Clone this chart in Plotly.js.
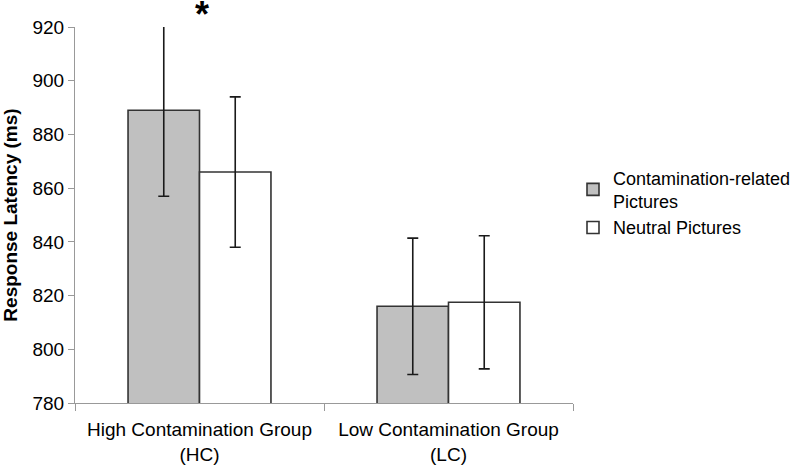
<!DOCTYPE html>
<html>
<head>
<meta charset="utf-8">
<script src="https://cdn.plot.ly/plotly-3.0.1.min.js"></script>
<style>html,body{margin:0;padding:0;background:#fff;}#chart{width:800px;height:467px;}</style>
</head>
<body>
<div id="chart"></div>
<script>
var groups = ["High Contamination Group<br>(HC)", "Low Contamination Group<br>(LC)"];
var seriesNames = ["Contamination-related<br>Pictures", "Neutral Pictures"];
var contaminationMeans = [889, 816];
var contaminationErrors = [32, 25.4];
var neutralMeans = [866, 817.5];
var neutralErrors = [28, 24.8];
var yTicks = [780, 800, 820, 840, 860, 880, 900, 920];

var font = "Liberation Sans, Arial, sans-serif";
var errStyle = {type: "data", visible: true, color: "#1a1a1a", thickness: 1.6, width: 5.5};

var traces = [
  {
    type: "bar", name: seriesNames[0], x: groups, y: contaminationMeans,
    marker: {color: "#c0c0c0", line: {color: "#333333", width: 1.6}},
    error_y: Object.assign({array: contaminationErrors}, errStyle)
  },
  {
    type: "bar", name: seriesNames[1], x: groups, y: neutralMeans,
    marker: {color: "#ffffff", line: {color: "#333333", width: 1.6}},
    error_y: Object.assign({array: neutralErrors}, errStyle)
  }
];

var layout = {
  width: 800, height: 467,
  margin: {l: 75, r: 227, t: 27, b: 64, autoexpand: false},
  paper_bgcolor: "#fff", plot_bgcolor: "#fff",
  barmode: "group", bargap: 0.426, bargroupgap: 0,
  font: {family: font, color: "#000", size: 18},
  showlegend: true,
  legend: {
    x: 1.0, y: 0.532, xanchor: "left", yanchor: "middle",
    font: {family: font, size: 18, color: "#000"},
    tracegroupgap: 19, itemwidth: 30, traceorder: "normal"
  },
  xaxis: {
    type: "category", showline: true, linecolor: "#999", linewidth: 1,
    ticks: "outside", tickson: "boundaries", ticklen: 7, tickcolor: "#999",
    showgrid: false, zeroline: false, fixedrange: true, ticklabelstandoff: 9,
    tickfont: {family: font, size: 19, color: "#000"}
  },
  yaxis: {
    range: [780, 920], tickvals: yTicks, ticktext: yTicks.map(String),
    showline: true, linecolor: "#999", linewidth: 1,
    ticks: "outside", ticklen: 6, tickcolor: "#999",
    showgrid: false, zeroline: false,
    tickfont: {family: font, size: 19, color: "#000"},
    title: {text: "Response Latency (ms)", font: {family: font, size: 19, color: "#000", weight: "bold"}, standoff: 16}
  },
  annotations: [
    {x: groups[0], y: 1, xref: "x", yref: "paper", yanchor: "bottom", text: "<b>*</b>", showarrow: false,
     font: {family: font, size: 36, color: "#000"}, yshift: -10, xshift: 2}
  ]
};

Plotly.newPlot("chart", traces, layout, {displayModeBar: false, staticPlot: true});
</script>
</body>
</html>
